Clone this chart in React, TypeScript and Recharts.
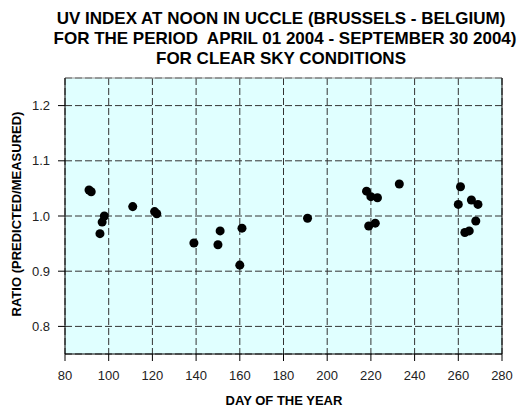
import React from 'react';
import {CartesianGrid, ReferenceLine, Scatter, ScatterChart, XAxis, YAxis, ZAxis} from 'recharts';

const days = [91, 92, 96, 97, 98, 111, 121, 122, 139, 150, 151, 160, 161, 191, 218, 219, 220, 222, 223, 233, 260, 261, 263, 265, 266, 268, 269];
const ratios = [1.047, 1.044, 0.968, 0.989, 1.0, 1.017, 1.008, 1.004, 0.951, 0.948, 0.973, 0.911, 0.978, 0.996, 1.045, 0.982, 1.035, 0.987, 1.033, 1.058, 1.021, 1.053, 0.97, 0.973, 1.029, 0.991, 1.021];
const xTicks = [80, 100, 120, 140, 160, 180, 200, 220, 240, 260, 280];
const yTicks = [0.8, 0.9, 1.0, 1.1, 1.2];
const titleLines = [
    'UV INDEX AT NOON IN UCCLE (BRUSSELS - BELGIUM)',
    'FOR THE PERIOD  APRIL 01 2004 - SEPTEMBER 30 2004)',
    'FOR CLEAR SKY CONDITIONS',
];

const data = days.map((d, i) => ({day: d, ratio: ratios[i]}));

const font = '"Liberation Sans", Arial, sans-serif';
const tickStyle = {fontFamily: font, fontSize: 13, fill: '#222'};

export default function App() {
    return (
        <div style={{position: 'absolute', left: 0, top: 0, width: 523, height: 408, background: '#fff'}}>
            <ScatterChart
                width={523}
                height={408}
                margin={{top: 78, right: 21, bottom: 24, left: 0}}
            >
                <CartesianGrid
                    stroke="#333"
                    strokeDasharray="7 3"
                    fill="#E0FFFF"
                    fillOpacity={1}
                />
                <XAxis
                    type="number"
                    dataKey="day"
                    domain={[80, 280]}
                    ticks={xTicks}
                    interval={0}
                    height={30}
                    tickSize={7}
                    tickMargin={10}
                    axisLine={{stroke: '#000'}}
                    tickLine={{stroke: '#000'}}
                    tick={tickStyle}
                />
                <YAxis
                    type="number"
                    dataKey="ratio"
                    domain={[0.75, 1.25]}
                    ticks={yTicks}
                    interval={0}
                    width={65}
                    tickSize={7}
                    tickMargin={8}
                    axisLine={{stroke: '#000'}}
                    tickLine={{stroke: '#000'}}
                    tick={tickStyle}
                    tickFormatter={(v: number) => v.toFixed(1)}
                />
                <ZAxis range={[55, 55]}/>
                <ReferenceLine y={1.25} stroke="#999"/>
                <ReferenceLine x={280} stroke="#000"/>
                <Scatter data={data} fill="#000" isAnimationActive={false}/>
            </ScatterChart>
            <svg
                width={523}
                height={408}
                style={{position: 'absolute', left: 0, top: 0, pointerEvents: 'none'}}
            >
                <g fontFamily={font} fontWeight="bold" fill="#000">
                    <text x={281} y={24} textAnchor="middle" fontSize={17} style={{whiteSpace: 'pre'}}>{titleLines[0]}</text>
                    <text x={285} y={44} textAnchor="middle" fontSize={17} style={{whiteSpace: 'pre'}}>{titleLines[1]}</text>
                    <text x={281} y={64} textAnchor="middle" fontSize={17} style={{whiteSpace: 'pre'}}>{titleLines[2]}</text>
                    <text x={284} y={405} textAnchor="middle" fontSize={13}>DAY OF THE YEAR</text>
                    <text x={21} y={214} textAnchor="middle" fontSize={13} transform="rotate(-90 21 214)">RATIO (PREDICTED/MEASURED)</text>
                </g>
            </svg>
        </div>
    );
}
